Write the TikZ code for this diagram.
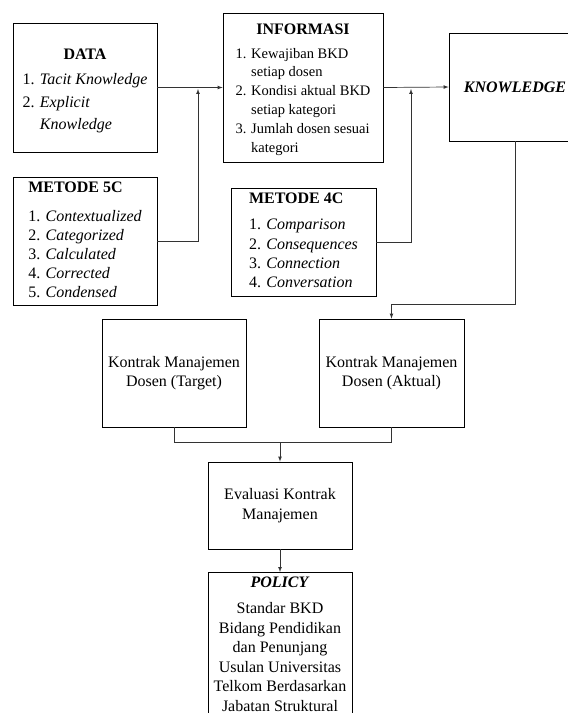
\documentclass[tikz,border=0pt]{standalone}
\usepackage{fontspec}
\setmainfont{Liberation Serif}

\tikzstyle{box}=[rectangle,draw=black,line width=0.8pt,align=center,font=\fontsize{16}{19.5}\selectfont,inner sep=4pt]
\tikzstyle{link}=[draw=black!80,line width=0.7pt]
\newcommand{\itemlist}[3]{{\fontsize{#1}{#2}\selectfont\begin{tabular}[t]{@{}l@{}}#3\end{tabular}}}

\begin{document}
\begin{tikzpicture}[>=latex,x=1pt,y=-1pt]
	\useasboundingbox (0,0) rectangle (568,713);
	\clip (0,0) rectangle (568,713);

	% top row
	\node[box,minimum width=144pt,minimum height=129pt] (data) at (85,87.5) {\rule{0pt}{21pt}\textbf{DATA}\\[5.5pt]{\renewcommand{\arraystretch}{1.2}\itemlist{16}{19}{1. \textit{Tacit Knowledge}\\2. \textit{Explicit}\\\hphantom{2. }\textit{Knowledge}}}};
	\node[box,minimum width=160pt,minimum height=149pt] (info) at (303,87.5) {\rule{0pt}{17pt}\textbf{INFORMASI}\\[4.5pt]\itemlist{14.5}{18.8}{1. Kewajiban BKD\\\hphantom{1. }setiap dosen\\2. Kondisi aktual BKD\\\hphantom{2. }setiap kategori\\3. Jumlah dosen sesuai\\\hphantom{3. }kategori}};
	\node[box,minimum width=132pt,minimum height=108pt] (know) at (515,87) {\textbf{\textit{KNOWLEDGE}}};

	% methods
	\node[box,minimum width=144pt,minimum height=128pt,inner ysep=2pt] (m5c) at (85,241) {\itemlist{16}{19}{\textbf{METODE 5C}\\[9.5pt]1. \textit{Contextualized}\\2. \textit{Categorized}\\3. \textit{Calculated}\\4. \textit{Corrected}\\5. \textit{Condensed}}};
	\node[box,minimum width=145pt,minimum height=108pt,inner ysep=2pt] (m4c) at (303.5,242) {\itemlist{16}{19.3}{\textbf{METODE 4C}\\[6.7pt]1. \textit{Comparison}\\2. \textit{Consequences}\\3. \textit{Connection}\\4. \textit{Conversation}}};

	% contracts
	\node[box,minimum width=144pt,minimum height=108pt] (target) at (174,373) {Kontrak Manajemen\\Dosen (Target)};
	\node[box,minimum width=145pt,minimum height=108pt] (aktual) at (391.5,373) {Kontrak Manajemen\\Dosen (Aktual)};
	\node[box,minimum width=144pt,minimum height=87pt] (eval) at (280,505.5) {Evaluasi Kontrak\\Manajemen};
	\node[box,minimum width=144pt,anchor=north] (policy) at (280,572) {\textbf{\textit{POLICY}}\\[7pt]Standar BKD\\Bidang Pendidikan\\dan Penunjang\\Usulan Universitas\\Telkom Berdasarkan\\Jabatan Struktural};

	\coordinate (j5c) at (198,89);
	\coordinate (j4c) at (411,89);
	\coordinate (join) at (280,442);

	\draw[link,->] (data.east) -- (info.west);
	\draw[link,->] (m5c.east) -| (j5c);
	\draw[link,->] (info.east) -- (know.west);
	\draw[link,->] (m4c.east) -| (j4c);
	\draw[link,->] (know.south) -- ++(0,163) -| (aktual.north);
	\draw[link] (target.south) -- ++(0,15) -| (aktual.south);
	\draw[link,->] (join) -- (eval.north);
	\draw[link,->] (eval) -- (policy);
\end{tikzpicture}
\end{document}
